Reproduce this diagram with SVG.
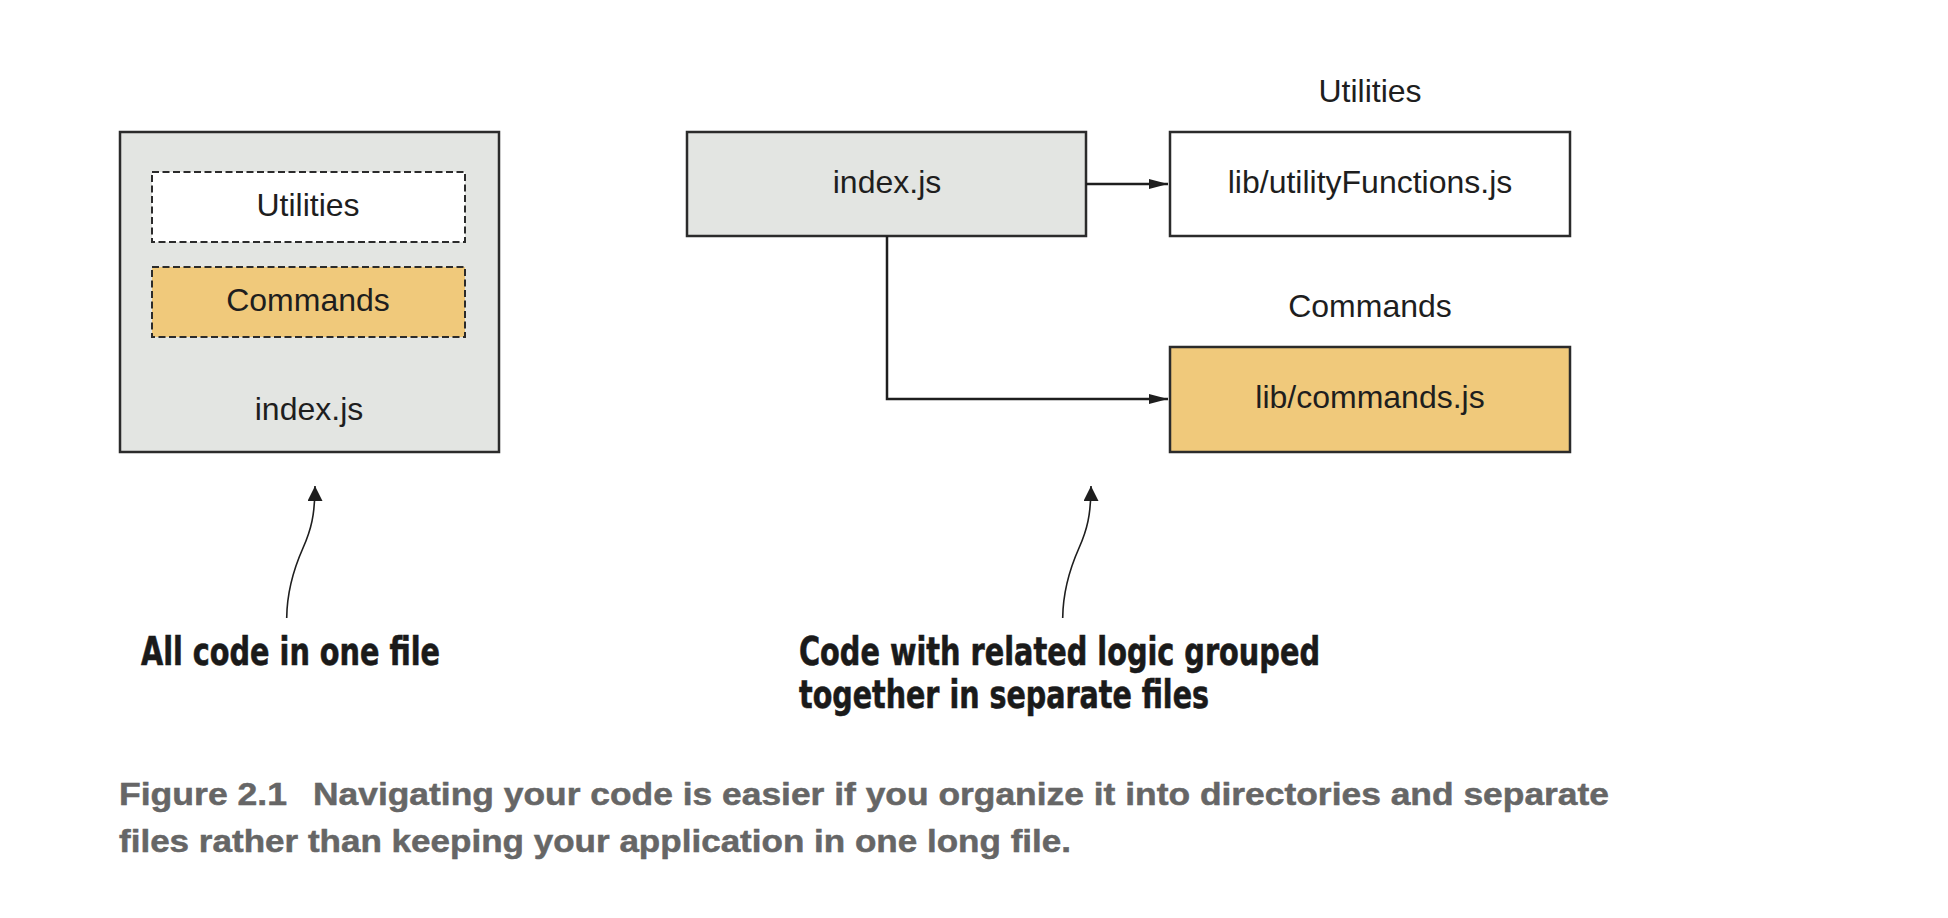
<svg xmlns="http://www.w3.org/2000/svg" width="1948" height="918" viewBox="0 0 1948 918">
<defs>
<style>
.box{stroke:#2b2b2b;stroke-width:2.5}
.gray{fill:#e3e5e2}
.white{fill:#ffffff}
.orange{fill:#f0c97b}
.dash{stroke:#2b2b2b;stroke-width:2;stroke-dasharray:7 3.5}
.lbl{font-family:"Liberation Sans",Arial,sans-serif;font-size:32px;fill:#1e1e1e;text-anchor:middle}
.conn{fill:none;stroke:#1e1e1e;stroke-width:2.5}
.curve{fill:none;stroke:#1e1e1e;stroke-width:1.6}
.note{font-family:"Liberation Sans Narrow","DejaVu Sans Condensed","Liberation Sans",sans-serif;font-weight:bold;font-size:39px;fill:#1a1a1a;stroke:#1a1a1a;stroke-width:0.6}
.cap{font-family:"Liberation Sans",Arial,sans-serif;font-weight:bold;font-size:32px;fill:#666666;stroke:#666666;stroke-width:0.5}
</style>
<marker id="arr" markerUnits="userSpaceOnUse" markerWidth="20" markerHeight="12" refX="19" refY="5" orient="auto">
<path d="M0,0 L19,5 L0,10 z" fill="#1e1e1e"/>
</marker>
<marker id="arrNote" markerUnits="userSpaceOnUse" markerWidth="16" markerHeight="16" refX="15" refY="7.5" orient="auto">
<path d="M0,0 L15,7.5 L0,15 z" fill="#1e1e1e"/>
</marker>
</defs>
<rect width="1948" height="918" fill="#ffffff"/>

<g id="single-file">
<rect class="box gray" x="120" y="132" width="379" height="320"/>
<text class="lbl" x="309" y="420">index.js</text>
</g>
<g id="single-utilities">
<rect class="dash white" x="152" y="172" width="313" height="70"/>
<text class="lbl" x="308" y="216">Utilities</text>
</g>
<g id="single-commands">
<rect class="dash orange" x="152" y="267" width="313" height="70"/>
<text class="lbl" x="308" y="311">Commands</text>
</g>

<g id="index-js">
<rect class="box gray" x="687" y="132" width="399" height="104"/>
<text class="lbl" x="887" y="193">index.js</text>
</g>
<g id="utility-functions">
<text class="lbl" x="1370" y="102">Utilities</text>
<rect class="box white" x="1170" y="132" width="400" height="104"/>
<text class="lbl" x="1370" y="193">lib/utilityFunctions.js</text>
</g>
<g id="commands-js">
<text class="lbl" x="1370" y="317">Commands</text>
<rect class="box orange" x="1170" y="347" width="400" height="105"/>
<text class="lbl" x="1370" y="408">lib/commands.js</text>
</g>

<g id="connectors">
<path class="conn" d="M1086,184 H1168" marker-end="url(#arr)"/>
<path class="conn" d="M887,236 V399 H1168" marker-end="url(#arr)"/>
<path class="curve" d="M286.7,618 C287,588 295,566 303,548 C311,530 315,515 315,486" marker-end="url(#arrNote)"/>
<path class="curve" d="M1062.7,618 C1063,588 1071,566 1079,548 C1087,530 1091,515 1091,486" marker-end="url(#arrNote)"/>
</g>

<g id="notes">
<text class="note" x="141" y="665" textLength="299" lengthAdjust="spacingAndGlyphs">All code in one file</text>
<text class="note" x="799" y="665" textLength="521" lengthAdjust="spacingAndGlyphs">Code with related logic grouped</text>
<text class="note" x="799" y="708" textLength="410" lengthAdjust="spacingAndGlyphs">together in separate files</text>
</g>

<g id="caption">
<text class="cap" x="119" y="805" textLength="168" lengthAdjust="spacingAndGlyphs">Figure 2.1</text>
<text class="cap" x="313" y="805" textLength="1296" lengthAdjust="spacingAndGlyphs">Navigating your code is easier if you organize it into directories and separate</text>
<text class="cap" x="119" y="852" textLength="952" lengthAdjust="spacingAndGlyphs">files rather than keeping your application in one long file.</text>
</g>
</svg>
